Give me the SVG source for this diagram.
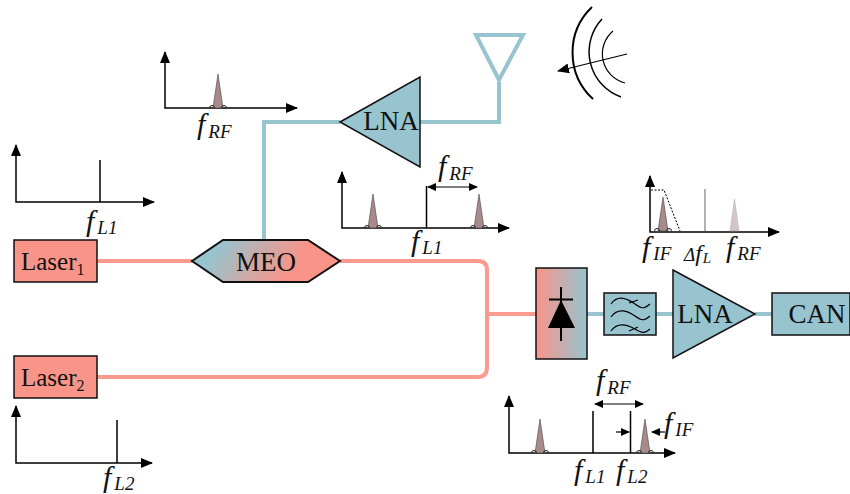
<svg xmlns="http://www.w3.org/2000/svg" width="850" height="494" viewBox="0 0 850 494">
<style>
.ax{fill:none;stroke:#000;stroke-width:1.5}
.thin{fill:none;stroke:#000;stroke-width:1.2}
.node{stroke:#111;stroke-width:1.5}
.blue{fill:#97c4cf}
.red{fill:#f99488}
.t{font-family:"Liberation Serif",serif;font-size:27px;fill:#111}
.l{font-size:25px}
.f{font-family:"Liberation Serif",serif;font-style:italic;font-size:30px;fill:#111}
.s{font-size:19px}
.lb{fill:none;stroke:#97c4cf;stroke-width:4}
.lr{fill:none;stroke:#fb9a8e;stroke-width:4}
</style>
<defs>
<marker id="a" markerUnits="userSpaceOnUse" markerWidth="12" markerHeight="10" refX="11" refY="5" orient="auto-start-reverse"><path d="M0 0L12 5L0 10z" fill="#000"/></marker>
<marker id="b" markerUnits="userSpaceOnUse" markerWidth="9" markerHeight="8" refX="8" refY="4" orient="auto-start-reverse"><path d="M0 0L9 4L0 8z" fill="#000"/></marker>
<linearGradient id="g1" x1="0" y1="0" x2="1" y2="0"><stop offset="0" stop-color="#f99488"/><stop offset="1" stop-color="#97c4cf"/></linearGradient>
<linearGradient id="g2" gradientUnits="userSpaceOnUse" x1="215" y1="230" x2="305" y2="290"><stop offset="0.1" stop-color="#97c4cf"/><stop offset="0.8" stop-color="#f99488"/></linearGradient>
<g id="pk"><path d="M-5 0L0 -34L5 0z" fill="#a98a8a" stroke="#444" stroke-width=".6"/><path d="M-8.500 0a2.500 2.500 0 0 1 5 0M3.500 0a2.500 2.500 0 0 1 5 0" fill="none" stroke="#222" stroke-width="1"/></g>
</defs>
<g id="connectors">
<path class="lb" d="M264 240V122H340"/>
<path class="lb" d="M420 122H499V82"/>
<path class="lr" d="M97 261H192"/>
<path class="lr" d="M340 261H478Q487 261 487 270V367Q487 377 478 377H97"/>
<path class="lr" d="M487 314H536"/>
<path class="lb" d="M587 314H604"/>
<path class="lb" d="M656 314H673"/>
<path class="lb" d="M755 314H772"/>
</g>
<g id="antenna"><path d="M476 35H523L499 80z" fill="none" stroke="#97c4cf" stroke-width="4"/></g>
<g id="wave" fill="none" stroke="#000">
<path d="M592 7A63 63 0 0 0 593 99" stroke-width="2"/>
<path d="M602 19A48 48 0 0 0 621 97" stroke-width="1.500"/>
<path d="M613 31A30 30 0 0 0 625 83" stroke-width="1.200"/>
<path d="M627 54L558 71" stroke-width="1.200" marker-end="url(#a)"/>
</g>
<g id="lna1"><path class="node blue" d="M340 122L420 77V167z"/><text class="t" x="391" y="130" text-anchor="middle">LNA</text></g>
<g id="laser1"><rect class="node red" x="14" y="240" width="83" height="42"/><text class="t l" x="21" y="270">Laser<tspan dy="5" style="font-size:16px">1</tspan></text></g>
<g id="laser2"><rect class="node red" x="14" y="356" width="83" height="42"/><text class="t l" x="21" y="386">Laser<tspan dy="5" style="font-size:16px">2</tspan></text></g>
<g id="meo"><path d="M192 261L223 240H308L340 261L308 282H223z" fill="url(#g2)" stroke="#111" stroke-width="2"/><text class="t" x="266" y="271" text-anchor="middle">MEO</text></g>
<g id="pd"><rect class="node" x="536" y="268" width="51" height="91" fill="url(#g1)"/><path d="M561 287V341" stroke="#000" stroke-width="2"/><path d="M549 299.500H573" stroke="#000" stroke-width="2"/><path d="M561 300L548 328H575z" fill="#000"/></g>
<g id="filter"><rect class="node blue" x="604" y="293" width="52" height="42"/><path class="thin" d="M611 304C618 294 628 299 635 304S644 309 650 304M611 317C618 307 628 311 635 316S644 321 650 316M611 331C618 321 628 325 635 329S644 334 650 329M629 303L638 300M629 331L638 327"/></g>
<g id="lna2"><path class="node blue" d="M673 270L755 314L673 358z"/><text class="t" x="705" y="323" text-anchor="middle">LNA</text></g>
<g id="can"><rect class="node blue" x="772" y="293" width="78" height="42"/><text class="t" x="817" y="323" text-anchor="middle">CAN</text></g>
<g id="spec-fl1"><path class="ax" d="M16 145V202H154" marker-start="url(#a)" marker-end="url(#a)"/><path class="ax" d="M100 160V202"/><text class="f" x="86" y="231">f<tspan class="s" dx="3" dy="3">L1</tspan></text></g>
<g id="spec-frf"><path class="ax" d="M165 52V108H297" marker-start="url(#a)" marker-end="url(#a)"/><use href="#pk" x="218" y="108"/><text class="f" x="197" y="134">f<tspan class="s" dx="3" dy="4">RF</tspan></text></g>
<g id="spec-fl2"><path class="ax" d="M16 406V463H152" marker-start="url(#a)" marker-end="url(#a)"/><path class="ax" d="M117 420V463"/><text class="f" x="103" y="487">f<tspan class="s" dx="3" dy="3">L2</tspan></text></g>
<g id="spec-mix"><path class="ax" d="M342 172V228H509" marker-start="url(#a)" marker-end="url(#a)"/><path class="ax" d="M426.500 186V228"/><use href="#pk" x="373" y="228"/><use href="#pk" x="479" y="228"/><path class="thin" d="M428 187H477" marker-start="url(#b)" marker-end="url(#b)"/><text class="f" x="438" y="176">f<tspan class="s" dx="3" dy="4">RF</tspan></text><text class="f" x="411" y="251">f<tspan class="s" dx="3" dy="3">L1</tspan></text></g>
<g id="spec-if"><path class="ax" d="M650 176V232H779" marker-start="url(#a)" marker-end="url(#a)"/><path d="M651 190H664L680 231" fill="none" stroke="#000" stroke-width="1" stroke-dasharray="2 1.500"/><use href="#pk" x="663" y="231"/><path d="M705 189V231" stroke="#999" stroke-width="1.500"/><path d="M730 231L734.500 199L739 231z" fill="#d4c6c6" stroke="#aaa" stroke-width=".5"/><text class="f" x="642" y="257">f<tspan class="s" dx="3" dy="3">IF</tspan></text><text class="f" x="684" y="261" style="font-size:19px">Δ<tspan style="font-size:24px">f</tspan><tspan style="font-size:15px" dx="1" dy="2">L</tspan></text><text class="f" x="726" y="257">f<tspan class="s" dx="3" dy="3">RF</tspan></text></g>
<g id="spec-beat"><path class="ax" d="M509 396V453H675" marker-start="url(#a)" marker-end="url(#a)"/><use href="#pk" x="540" y="453"/><use href="#pk" x="645" y="453"/><path class="ax" d="M593 411V453M630.500 411V453"/><path class="thin" d="M595 404H643" marker-start="url(#b)" marker-end="url(#b)"/><path class="thin" d="M616 432H629" marker-end="url(#b)"/><path class="thin" d="M652 432H665" marker-start="url(#b)"/><text class="f" x="596" y="390">f<tspan class="s" dx="3" dy="4">RF</tspan></text><text class="f" x="574" y="480">f<tspan class="s" dx="3" dy="3">L1</tspan></text><text class="f" x="616" y="480">f<tspan class="s" dx="3" dy="3">L2</tspan></text><text class="f" x="664" y="433">f<tspan class="s" dx="3" dy="3">IF</tspan></text></g>
</svg>
